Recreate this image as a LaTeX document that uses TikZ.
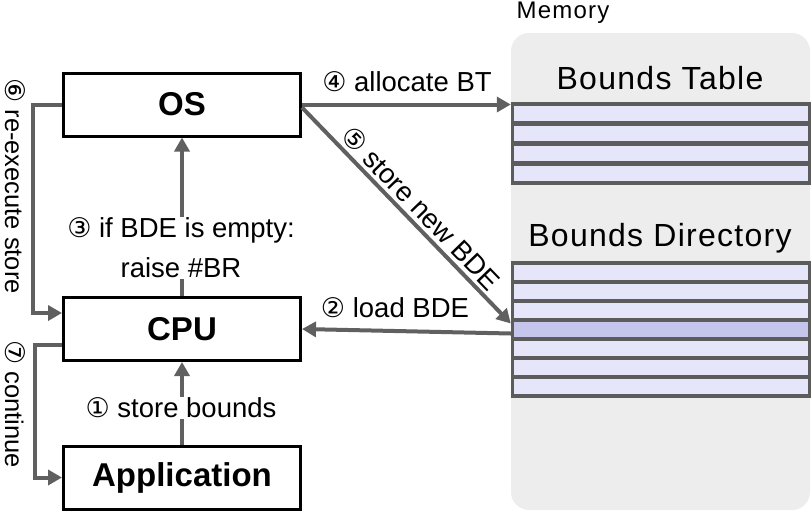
\documentclass[tikz,border=0pt]{standalone}
\usepackage{fontspec}
\setmainfont{Liberation Sans}
\newfontfamily\dejavu{DejaVu Sans}
\usetikzlibrary{arrows.meta,calc}
\definecolor{arrowgray}{HTML}{606060}
\definecolor{memgray}{HTML}{EDEDED}
\definecolor{arraygray}{HTML}{5C5C5C}
\definecolor{rowfill}{HTML}{E6E6FA}
\definecolor{rowhi}{HTML}{C6C6EC}
\newcommand\circnum[1]{{\dejavu\fontsize{27}{27}\selectfont #1}}
\begin{document}
\begin{tikzpicture}[x=1pt,y=-1pt,
  box/.style={draw=black, line width=3pt, minimum width=237pt, minimum height=63pt, inner sep=0pt, font=\fontsize{33}{33}\selectfont\bfseries},
  conn/.style={draw=arrowgray, line width=4pt, -{Triangle[length=14pt,width=15pt]}},
  lbl/.style={font=\fontsize{27.5}{40}\selectfont, inner sep=1pt},
  vlbl/.style={font=\fontsize{25.5}{30}\selectfont, inner sep=1pt, rotate=-90},
  arr/.style={fill=arraygray, minimum width=300pt, inner sep=0pt},
  title/.style={font=\fontsize{32}{32}\selectfont\addfontfeature{LetterSpace=4}},
]
\useasboundingbox (0,0) rectangle (812,515);
% memory region
\fill[memgray, rounded corners=18pt] (511,33) rectangle (810,510);
\node[font=\fontsize{24}{24}\selectfont\addfontfeature{LetterSpace=5}] (memlbl) at (563,13) {Memory};
\node[title] (btlbl) at (660,78) {Bounds Table};
\node[title] (bdlbl) at (660,238) {Bounds Directory};
% arrays
\node[arr, minimum height=83pt] (bt) at (661,143.5) {};
\foreach \i in {0,...,3} {
  \fill[rowfill] (514,106+20*\i) rectangle (808,121+20*\i);
}
\node[arr, minimum height=137pt] (bd) at (661,329.5) {};
\foreach \i in {0,...,6} {
  \fill[rowfill] (514,265+19*\i) rectangle (808,280+19*\i);
}
\fill[rowhi] (514,322) rectangle (808,337);
% boxes
\node[box] (os) at (182,104.5) {OS};
\node[box] (cpu) at (182,329) {CPU};
\node[box] (app) at (182,477.5) {Application};
% connectors
\draw[conn] (app.north) -- (cpu.south);
\draw[conn] (cpu.north) -- (os.south);
\draw[conn] (os.east) -- (os.east -| bt.west);
\draw[conn] ($(os.east)+(0,3)$) -- ($(bd.west)+(0,-6)$);
\draw[conn] ($(bd.west)+(0,4)$) -- (cpu.east);
\coordinate (l6) at (33,104.5);
\coordinate (l7) at (35,345);
\draw[conn] (os.west) -- (l6) |- ($(cpu.west)+(0,-16)$);
\draw[conn] ($(cpu.west)+(0,16)$) -- (l7) |- (app.west);
% labels
\node[lbl, fill=white] (t1) at (181,408) {\circnum{①} store bounds};
\node[lbl, fill=white, align=center] (t3) at (181,248) {\circnum{③} if BDE is empty:\\raise \#BR};
\node[lbl] (t4) at (407,82) {\circnum{④} allocate BT};
\node[lbl] (t2) at (395,308) {\circnum{②} load BDE};
\node[lbl, rotate=-46] (t5) at (421,208) {\circnum{⑤} store new BDE};
\node[vlbl] (t6) at (15,186) {\circnum{⑥} re-execute store};
\node[vlbl] (t7) at (15,404) {\circnum{⑦} continue};
\end{tikzpicture}
\end{document}
